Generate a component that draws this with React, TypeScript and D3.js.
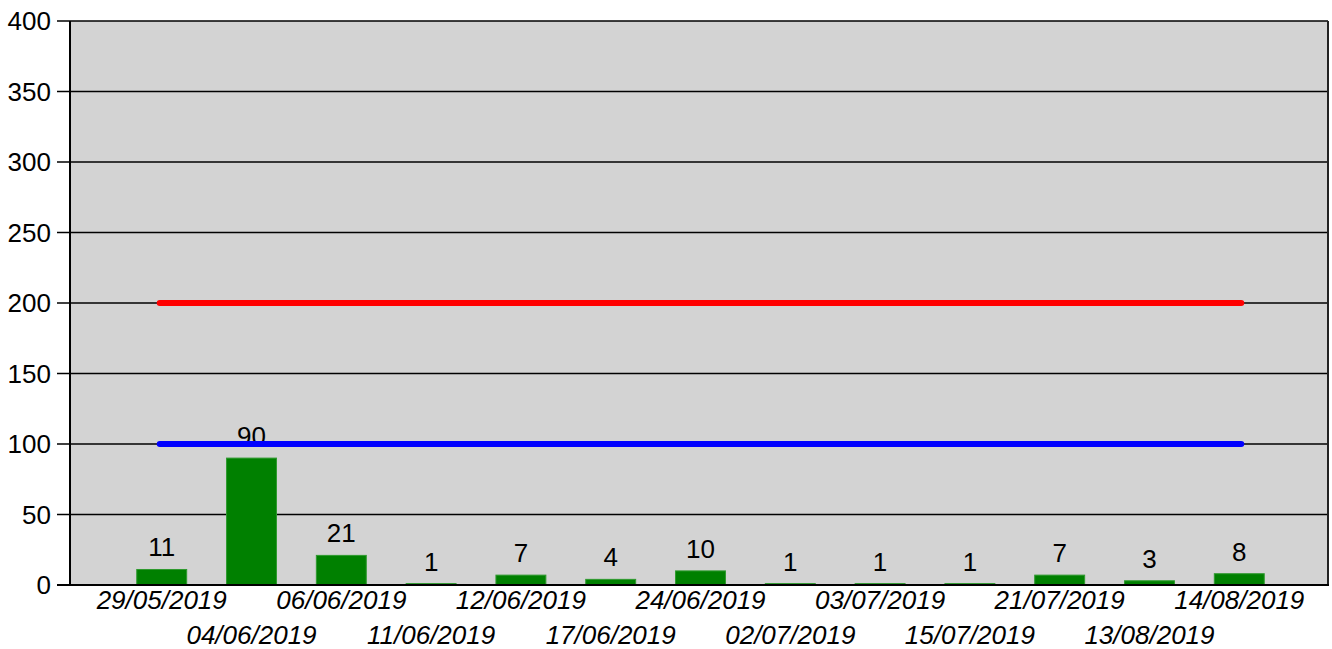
import { useEffect, useRef } from 'react';
import * as d3 from 'd3';

const dates = [
  '29/05/2019', '04/06/2019', '06/06/2019', '11/06/2019', '12/06/2019',
  '17/06/2019', '24/06/2019', '02/07/2019', '03/07/2019', '15/07/2019',
  '21/07/2019', '13/08/2019', '14/08/2019',
];
const counts = [11, 90, 21, 1, 7, 4, 10, 1, 1, 1, 7, 3, 8];
const upperLimit = 200;
const lowerLimit = 100;
const yTicks = [0, 50, 100, 150, 200, 250, 300, 350, 400];

export default function App() {
  const ref = useRef<SVGSVGElement>(null);

  useEffect(() => {
    if (!ref.current) return;
    const svg = d3.select(ref.current);
    svg.selectAll('*').remove();

    const W = 1332;
    const H = 649;
    const left = 70, right = 1328, top = 21, bottom = 585;
    const font = '"Liberation Sans", Arial, sans-serif';
    const fs = 26;

    const x = d3.scaleBand<string>()
      .domain(dates)
      .range([73, right])
      .paddingInner(0.444)
      .paddingOuter(0.71);

    const y = d3.scaleLinear().domain([0, 400]).range([bottom, top]);

    svg.attr('width', W).attr('height', H);

    // Plot background
    svg.append('rect')
      .attr('x', left).attr('y', top)
      .attr('width', right - left).attr('height', bottom - top)
      .attr('fill', '#d3d3d3');

    // Gridlines + ticks
    svg.append('g').selectAll('line')
      .data(yTicks)
      .enter()
      .append('line')
      .attr('x1', 57).attr('x2', right)
      .attr('y1', d => y(d)).attr('y2', d => y(d))
      .attr('stroke', '#000')
      .attr('stroke-width', 1.5);

    // Y tick labels
    svg.append('g').selectAll('text')
      .data(yTicks)
      .enter()
      .append('text')
      .attr('x', 51)
      .attr('y', d => y(d))
      .attr('dy', '0.36em')
      .attr('text-anchor', 'end')
      .attr('font-family', font)
      .attr('font-size', fs)
      .text(d => d);

    // Bars
    svg.append('g').selectAll('rect')
      .data(counts)
      .enter()
      .append('rect')
      .attr('x', (_, i) => x(dates[i]) || 0)
      .attr('y', d => y(d))
      .attr('width', x.bandwidth())
      .attr('height', d => bottom - y(d))
      .attr('fill', '#008000')
      .attr('stroke', '#2e9a2e')
      .attr('stroke-width', 1);

    // Value labels
    svg.append('g').selectAll('text')
      .data(counts)
      .enter()
      .append('text')
      .attr('x', (_, i) => (x(dates[i]) || 0) + x.bandwidth() / 2)
      .attr('y', d => y(d) - 13)
      .attr('text-anchor', 'middle')
      .attr('font-family', font)
      .attr('font-size', fs)
      .text(d => d);

    // Limit lines
    const x0 = (x(dates[0]) || 0) + x.bandwidth() / 2 - 2;
    const x1 = (x(dates[dates.length - 1]) || 0) + x.bandwidth() / 2 + 2;
    [[upperLimit, '#ff0000'], [lowerLimit, '#0000ff']].forEach(([v, c]) => {
      svg.append('line')
        .attr('x1', x0).attr('x2', x1)
        .attr('y1', y(v as number)).attr('y2', y(v as number))
        .attr('stroke', c as string)
        .attr('stroke-width', 6)
        .attr('stroke-linecap', 'round');
    });

    // Frame
    svg.append('line')
      .attr('x1', left).attr('x2', left).attr('y1', top).attr('y2', bottom)
      .attr('stroke', '#000').attr('stroke-width', 2);
    svg.append('line')
      .attr('x1', right).attr('x2', right).attr('y1', top).attr('y2', bottom)
      .attr('stroke', '#222').attr('stroke-width', 2);
    svg.append('line')
      .attr('x1', 57).attr('x2', right + 1).attr('y1', bottom).attr('y2', bottom)
      .attr('stroke', '#000').attr('stroke-width', 2);

    // X labels, staggered
    svg.append('g').selectAll('text')
      .data(dates)
      .enter()
      .append('text')
      .attr('x', d => (x(d) || 0) + x.bandwidth() / 2)
      .attr('y', (_, i) => (i % 2 === 0 ? 609 : 644))
      .attr('text-anchor', 'middle')
      .attr('font-family', font)
      .attr('font-style', 'italic')
      .attr('font-size', fs)
      .text(d => d);
  }, []);

  return <svg ref={ref} style={{ position: 'absolute', left: 0, top: 0 }} />;
}
